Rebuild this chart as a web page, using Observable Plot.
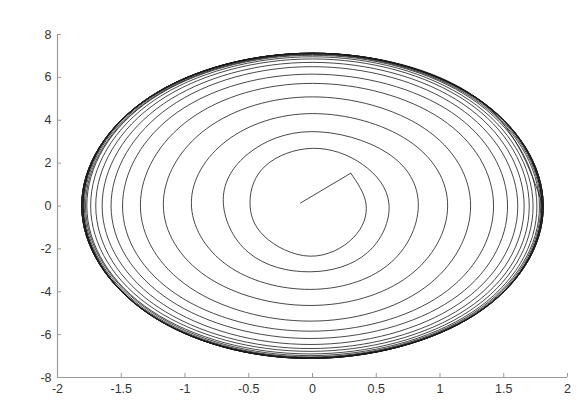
<!DOCTYPE html>
<html>
<head>
<meta charset="utf-8">
<script src="https://cdn.jsdelivr.net/npm/d3@7"></script>
<script src="https://cdn.jsdelivr.net/npm/@observablehq/plot@0.6"></script>
<style>
  html, body { margin: 0; padding: 0; background: #fff; }
  svg { display: block; }
</style>
</head>
<body>
<div id="chart"></div>
<script>
// Tick values
const xTicks = [-2, -1.5, -1, -0.5, 0, 0.5, 1, 1.5, 2];
const yTicks = [-8, -6, -4, -2, 0, 2, 4, 6, 8];

// Initial straight segment of the trajectory (start -> first corner)
const startX = [-0.094, 0.30];
const startY = [0.14, 1.53];

// Trajectory after the corner: 8 points per turn, clockwise
// (right, lower-right, bottom, lower-left, left, upper-left, top, upper-right)
const trajX = [
  0.30,
  0.42, 0.32, -0.02, -0.38, -0.49, -0.37, 0.00, 0.39,
  0.60, 0.43, -0.02, -0.50, -0.70, -0.50, -0.01, 0.59,
  0.83, 0.59, -0.02, -0.67, -0.95, -0.67, 0.00, 0.75,
  1.06, 0.75, -0.02, -0.83, -1.17, -0.83, 0.00, 0.88,
  1.24, 0.88, -0.02, -0.96, -1.35, -0.96, 0.00, 1.01,
  1.42, 1.01, -0.02, -1.06, -1.49, -1.06, 0.00, 1.09,
  1.53, 1.09, -0.02, -1.12, -1.58, -1.12, 0.00, 1.14,
  1.61, 1.14, -0.02, -1.17, -1.65, -1.17, 0.00, 1.18,
  1.66, 1.18, -0.02, -1.21, -1.70, -1.21, 0.00, 1.21,
  1.70, 1.21, -0.02, -1.24, -1.74, -1.24, 0.00, 1.23,
  1.73, 1.23, -0.02, -1.26, -1.77, -1.26, 0.00, 1.25,
  1.76, 1.25, -0.02, -1.26, -1.78, -1.26, 0.00, 1.26,
  1.78, 1.26, -0.02, -1.27, -1.79, -1.27, 0.00, 1.27,
  1.79, 1.27, -0.02, -1.28, -1.80, -1.28, 0.00, 1.28,
  1.80, 1.28, -0.02, -1.28, -1.80, -1.28, 0.00, 1.28,
  1.80, 1.28, -0.02, -1.28, -1.80, -1.28, 0.00, 1.28,
  1.80, 1.28, -0.02, -1.28, -1.80, -1.28, 0.00, 1.28,
  1.80, 1.28, -0.02, -1.28, -1.81, -1.28, 0.00, 1.28,
  1.81, 1.28, -0.02, -1.28, -1.81, -1.28, 0.00, 1.28,
  1.81, 1.28, -0.02, -1.28, -1.81, -1.28, 0.00, 1.28,
  1.81, 1.28, -0.02, -1.28, -1.81, -1.28, 0.00, 1.28,
  1.81, 1.28, -0.02, -1.28, -1.81, -1.28, 0.00, 1.28,
  1.81
];
const trajY = [
  1.53,
  0.08, -1.48, -2.34, -1.40, 0.20, 1.87, 2.69, 1.95,
  0.08, -2.18, -3.07, -2.18, 0.30, 2.46, 3.47, 2.46,
  0.02, -2.76, -3.89, -2.76, 0.15, 3.06, 4.31, 3.06,
  0.00, -3.29, -4.64, -3.29, 0.08, 3.61, 5.09, 3.61,
  0.00, -3.81, -5.37, -3.81, 0.04, 4.06, 5.72, 4.06,
  0.00, -4.15, -5.84, -4.15, 0.00, 4.37, 6.15, 4.37,
  0.00, -4.39, -6.18, -4.39, 0.00, 4.62, 6.50, 4.62,
  0.00, -4.59, -6.46, -4.59, 0.00, 4.76, 6.70, 4.76,
  0.00, -4.72, -6.65, -4.72, 0.00, 4.87, 6.86, 4.87,
  0.00, -4.81, -6.78, -4.81, 0.00, 4.94, 6.96, 4.94,
  0.00, -4.90, -6.90, -4.90, 0.00, 4.99, 7.03, 4.99,
  0.00, -4.96, -6.98, -4.96, 0.00, 5.02, 7.07, 5.02,
  0.00, -5.00, -7.04, -5.00, 0.00, 5.04, 7.10, 5.04,
  0.00, -5.02, -7.07, -5.02, 0.00, 5.05, 7.11, 5.05,
  0.00, -5.03, -7.09, -5.03, 0.00, 5.06, 7.12, 5.06,
  0.00, -5.04, -7.10, -5.04, 0.00, 5.06, 7.12, 5.06,
  0.00, -5.04, -7.10, -5.04, 0.00, 5.06, 7.12, 5.06,
  0.00, -5.04, -7.10, -5.04, 0.00, 5.06, 7.13, 5.06,
  0.00, -5.05, -7.11, -5.05, 0.00, 5.07, 7.13, 5.07,
  0.00, -5.05, -7.11, -5.05, 0.00, 5.07, 7.13, 5.07,
  0.00, -5.05, -7.11, -5.05, 0.00, 5.07, 7.13, 5.07,
  0.00, -5.05, -7.11, -5.05, 0.00, 5.07, 7.13, 5.07,
  0.00
];

const startSeg = startX.map((x, i) => ({x, y: startY[i]}));
const spiral = trajX.map((x, i) => ({x, y: trajY[i]}));

const axisColor = "#9a9a9a";
const textColor = "#333";
const fmt = d => String(d);

const chart = Plot.plot({
  width: 582,
  height: 420,
  marginTop: 34,
  marginBottom: 43,
  marginLeft: 57,
  marginRight: 15,
  style: {fontFamily: "'Liberation Sans', Arial, sans-serif", fontSize: "12.5px", background: "#fff", color: textColor},
  x: {domain: [-2, 2]},
  y: {domain: [-8, 8]},
  marks: [
    Plot.line(startSeg, {x: "x", y: "y", stroke: "#1a1a1a", strokeWidth: 0.8, curve: "linear"}),
    Plot.line(spiral, {x: "x", y: "y", stroke: "#1a1a1a", strokeWidth: 0.8, curve: "natural"}),
    Plot.ruleY([-8], {stroke: axisColor, strokeWidth: 1.2}),
    Plot.ruleX([-2], {stroke: axisColor, strokeWidth: 1.2}),
    Plot.axisX(xTicks, {tickSize: -4, tickFormat: () => "", stroke: axisColor, label: null}),
    Plot.axisY(yTicks, {tickSize: -4, tickFormat: () => "", stroke: axisColor, label: null}),
    Plot.axisX(xTicks, {tickSize: 0, tickPadding: 7, tickFormat: fmt, label: null, fill: textColor}),
    Plot.axisY(yTicks, {tickSize: 0, tickPadding: 6, tickFormat: fmt, label: null, fill: textColor})
  ]
});
document.getElementById("chart").appendChild(chart);
</script>
</body>
</html>
